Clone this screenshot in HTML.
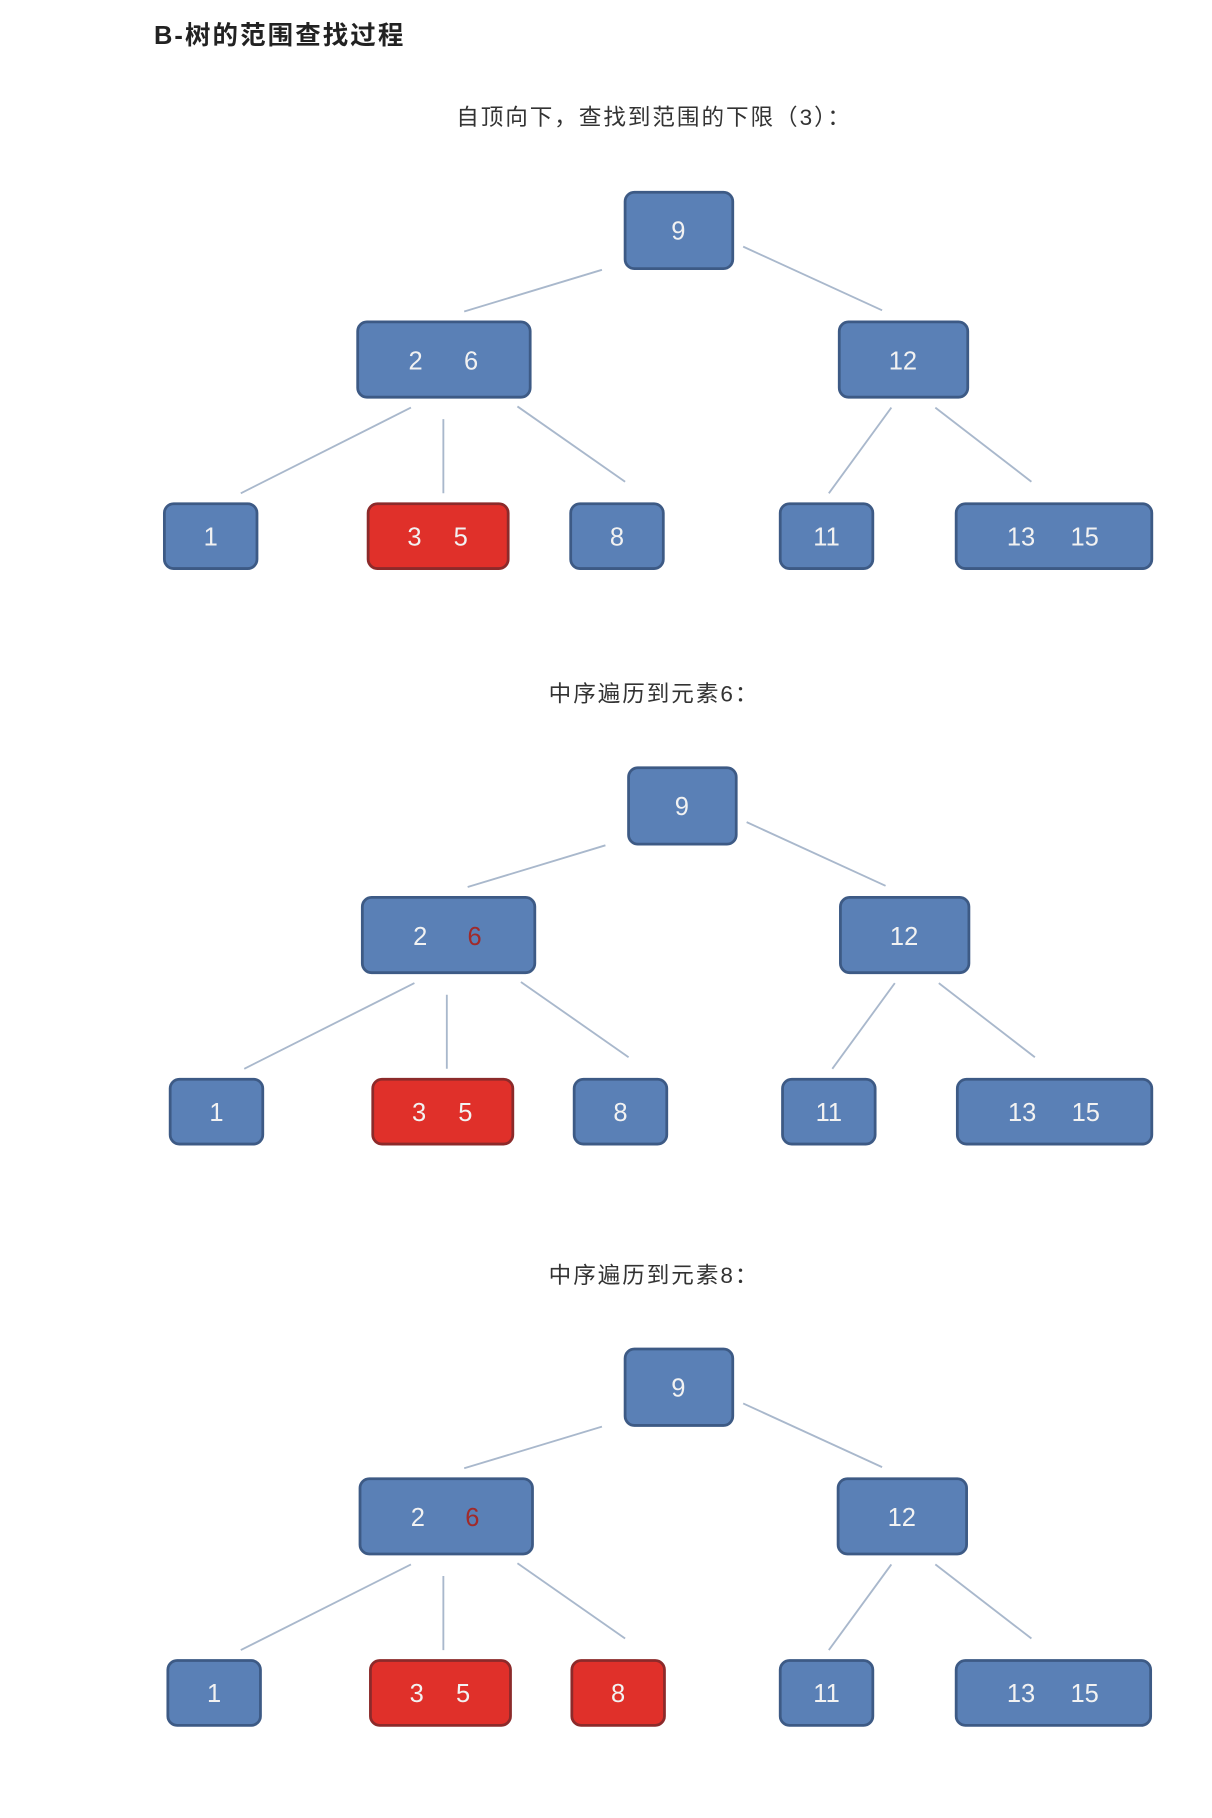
<!DOCTYPE html>
<html><head><meta charset="utf-8"><style>
html,body{margin:0;padding:0;background:#fff;}
svg{display:block;}
</style></head><body>
<svg width="1212" height="1818" viewBox="0 0 1047 1570" preserveAspectRatio="none" xmlns="http://www.w3.org/2000/svg">
<defs>
<g id="lines" stroke="#a9b8cc" stroke-width="1.6" fill="none">
<line x1="520" y1="233" x2="401" y2="269"/>
<line x1="642" y1="213" x2="762" y2="268"/>
<line x1="355" y1="352" x2="208" y2="426"/>
<line x1="383" y1="362" x2="383" y2="426"/>
<line x1="447" y1="351" x2="540" y2="416"/>
<line x1="770" y1="352" x2="716" y2="426"/>
<line x1="808" y1="352" x2="891" y2="416"/>
</g>
</defs>
<text x="133" y="38" font-family="Liberation Sans, Noto Sans CJK SC, sans-serif" font-size="22" font-weight="bold" letter-spacing="1.8" fill="#222">B-树的范围查找过程</text>
<g font-family="Liberation Sans, Noto Sans CJK SC, sans-serif" font-size="19.5" letter-spacing="1.7" fill="#333" text-anchor="middle">
<text x="565" y="108">自顶向下，查找到范围的下限（3）：</text>
<text x="565" y="606">中序遍历到元素6：</text>
<text x="565" y="1108">中序遍历到元素8：</text>
</g>
<g font-family="Liberation Sans, DejaVu Sans, sans-serif" font-size="22" fill="#f2f2f2" text-anchor="middle" stroke-width="2.4">
<g>
<use href="#lines"/>
<rect x="540" y="166" width="93" height="66" rx="8" fill="#5a80b6" stroke="#3d5a85"/><text x="586" y="207">9</text>
<rect x="309" y="278" width="149" height="65" rx="8" fill="#5a80b6" stroke="#3d5a85"/><text x="359" y="319">2</text><text x="407" y="319">6</text>
<rect x="725" y="278" width="111" height="65" rx="8" fill="#5a80b6" stroke="#3d5a85"/><text x="780" y="319">12</text>
<rect x="142" y="435" width="80" height="56" rx="8" fill="#5a80b6" stroke="#3d5a85"/><text x="182" y="471">1</text>
<rect x="318" y="435" width="121" height="56" rx="8" fill="#e0302a" stroke="#8c2a2a"/><text x="358" y="471">3</text><text x="398" y="471">5</text>
<rect x="493" y="435" width="80" height="56" rx="8" fill="#5a80b6" stroke="#3d5a85"/><text x="533" y="471">8</text>
<rect x="674" y="435" width="80" height="56" rx="8" fill="#5a80b6" stroke="#3d5a85"/><text x="714" y="471">11</text>
<rect x="826" y="435" width="169" height="56" rx="8" fill="#5a80b6" stroke="#3d5a85"/><text x="882" y="471">13</text><text x="937" y="471">15</text>
</g>
<g transform="translate(3,497)">
<use href="#lines"/>
<rect x="540" y="166" width="93" height="66" rx="8" fill="#5a80b6" stroke="#3d5a85"/><text x="586" y="207">9</text>
<rect x="310" y="278" width="149" height="65" rx="8" fill="#5a80b6" stroke="#3d5a85"/><text x="360" y="319">2</text><text x="407" y="319" fill="#a02a2a">6</text>
<rect x="723" y="278" width="111" height="65" rx="8" fill="#5a80b6" stroke="#3d5a85"/><text x="778" y="319">12</text>
<rect x="144" y="435" width="80" height="56" rx="8" fill="#5a80b6" stroke="#3d5a85"/><text x="184" y="471">1</text>
<rect x="319" y="435" width="121" height="56" rx="8" fill="#e0302a" stroke="#8c2a2a"/><text x="359" y="471">3</text><text x="399" y="471">5</text>
<rect x="493" y="435" width="80" height="56" rx="8" fill="#5a80b6" stroke="#3d5a85"/><text x="533" y="471">8</text>
<rect x="673" y="435" width="80" height="56" rx="8" fill="#5a80b6" stroke="#3d5a85"/><text x="713" y="471">11</text>
<rect x="824" y="435" width="168" height="56" rx="8" fill="#5a80b6" stroke="#3d5a85"/><text x="880" y="471">13</text><text x="935" y="471">15</text>
</g>
<g transform="translate(0,999)">
<use href="#lines"/>
<rect x="540" y="166" width="93" height="66" rx="8" fill="#5a80b6" stroke="#3d5a85"/><text x="586" y="207">9</text>
<rect x="311" y="278" width="149" height="65" rx="8" fill="#5a80b6" stroke="#3d5a85"/><text x="361" y="319">2</text><text x="408" y="319" fill="#a02a2a">6</text>
<rect x="724" y="278" width="111" height="65" rx="8" fill="#5a80b6" stroke="#3d5a85"/><text x="779" y="319">12</text>
<rect x="145" y="435" width="80" height="56" rx="8" fill="#5a80b6" stroke="#3d5a85"/><text x="185" y="471">1</text>
<rect x="320" y="435" width="121" height="56" rx="8" fill="#e0302a" stroke="#8c2a2a"/><text x="360" y="471">3</text><text x="400" y="471">5</text>
<rect x="494" y="435" width="80" height="56" rx="8" fill="#e0302a" stroke="#8c2a2a"/><text x="534" y="471">8</text>
<rect x="674" y="435" width="80" height="56" rx="8" fill="#5a80b6" stroke="#3d5a85"/><text x="714" y="471">11</text>
<rect x="826" y="435" width="168" height="56" rx="8" fill="#5a80b6" stroke="#3d5a85"/><text x="882" y="471">13</text><text x="937" y="471">15</text>
</g>
</g>
</svg>
</body></html>
